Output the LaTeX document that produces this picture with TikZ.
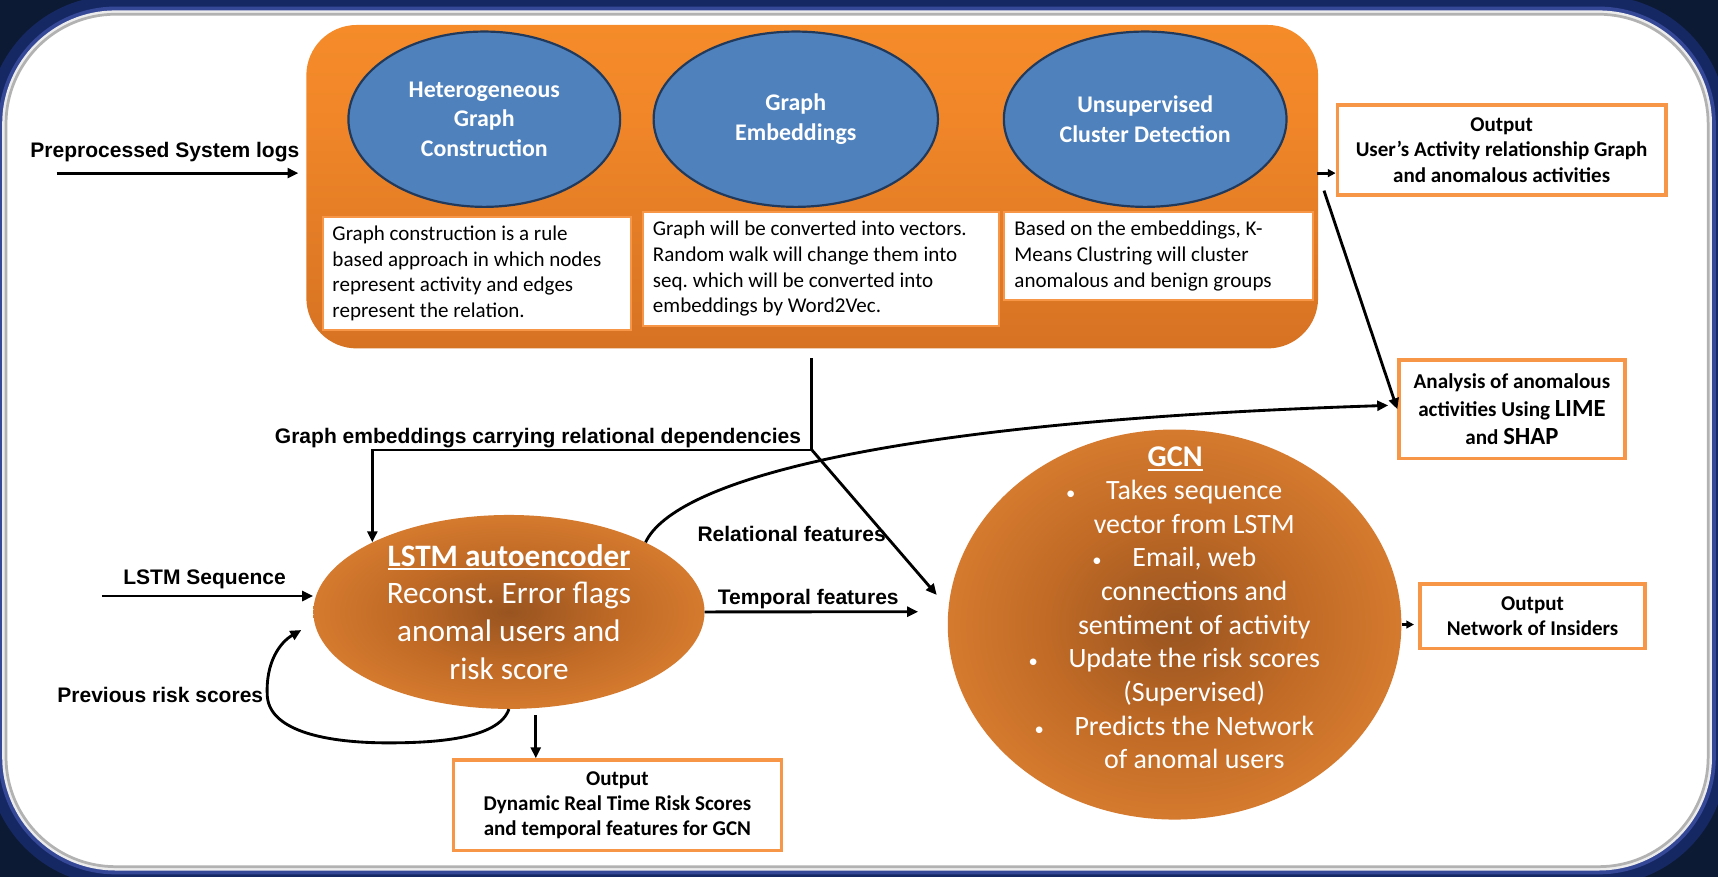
\documentclass[tikz,border=0pt]{standalone}
\usepackage{fontspec}
\setmainfont{Carlito}
\newfontfamily\arialf{Liberation Sans}
\usetikzlibrary{arrows.meta,shapes.geometric}

\definecolor{navy}{RGB}{13,26,52}
\definecolor{glowblue}{RGB}{30,52,140}
\definecolor{eblue}{RGB}{79,129,189}
\definecolor{edark}{RGB}{33,58,92}
\definecolor{boxor}{RGB}{247,150,70}
\definecolor{otop}{RGB}{253,148,44}
\definecolor{omid}{RGB}{240,134,40}
\definecolor{obot}{RGB}{203,106,33}
\definecolor{gin}{RGB}{152,84,32}
\definecolor{gmid1}{RGB}{192,106,38}
\definecolor{gmid2}{RGB}{226,133,52}
\definecolor{gout}{RGB}{243,147,61}

\pgfdeclareverticalshading{orangev}{100bp}{color(0bp)=(obot); color(10bp)=(obot); color(60bp)=(omid); color(100bp)=(otop)}
\pgfdeclareradialshading{orangeglow}{\pgfpoint{0bp}{0bp}}{color(0bp)=(gin); color(14bp)=(gmid1); color(32bp)=(gmid2); color(50bp)=(gout)}

\newcommand{\myul}[1]{\setbox0=\hbox{#1}\rlap{\vrule width\wd0 height -2.2pt depth 4pt}\box0}
\newcommand{\gbul}{\llap{{\fontsize{17}{17}\selectfont •}\hspace{28pt}}}
\frenchspacing

\begin{document}
\begin{tikzpicture}[x=1pt,y=-1pt,
  arr/.style={line width=2.6pt,-{Triangle[length=10pt,width=9pt]}},
  sarr/.style={line width=2.6pt,-{Triangle[length=7pt,width=7pt]}},
  blueell/.style={ellipse,fill=eblue,draw=edark,line width=2pt,text=white,inner sep=0pt,
    font={\bfseries\fontsize{21.8}{26.8}\selectfont},align=center},
  pipebox/.style={rectangle,rounded corners=46pt,shade,shading=orangev,inner sep=0pt},
  descbox/.style={rectangle,draw=boxor,line width=1.5pt,fill=white,inner sep=0pt},
  desctext/.style={anchor=west,align=left,inner sep=0pt,font={\fontsize{19.2}{23.5}\selectfont}},
  outbox/.style={rectangle,draw=boxor,line width=3pt,fill=white,inner sep=0pt,align=center,
    font={\bfseries\fontsize{19.2}{23}\selectfont}},
  lbl/.style={anchor=base,inner sep=0pt,font={\arialf\bfseries\fontsize{19.2}{23}\selectfont}},
  glowell/.style={ellipse,shade,shading=orangeglow,inner sep=0pt,text=white,align=center},
]
\useasboundingbox (0,0) rectangle (1568,800);

% background and panel
\fill[navy] (0,0) rectangle (1568,800);
\draw[glowblue,line width=34pt,rounded corners=100pt,opacity=.55] (5.5,13) rectangle (1559,791);
\draw[glowblue!90!white,line width=14pt,rounded corners=100pt] (5.5,13) rectangle (1559,791);
\draw[gray!15,line width=7pt,rounded corners=100pt] (5.5,13) rectangle (1559,791);
\filldraw[fill=white,draw=gray!60,line width=2.5pt,rounded corners=100pt] (5.5,13) rectangle (1559,791);

% orange pipeline block
\node[pipebox,minimum width=923.4pt,minimum height=295.2pt] (pipe) at (741.3,170.4) {};

\node[blueell,minimum width=248pt,minimum height=160pt] (e1) at (442,108.8) {Heterogeneous\\Graph\\Construction};
\node[blueell,minimum width=259.5pt,minimum height=160pt] (e2) at (726.3,108.8) {Graph\\Embeddings};
\node[blueell,minimum width=258pt,minimum height=160pt] (e3) at (1045.2,108.8) {Unsupervised\\Cluster Detection};

\node[descbox,minimum width=281pt,minimum height=103pt] (t1) at (435.5,249.5) {};
\node[desctext] (t1x) at ([xshift=9pt]t1.west) {Graph construction is a rule\\based approach in which nodes\\represent activity and edges\\represent the relation.};
\node[descbox,minimum width=324.5pt,minimum height=104.3pt] (t2) at (749.25,245.35) {};
\node[desctext] (t2x) at ([xshift=9.5pt]t2.west) {Graph will be converted into vectors.\\Random walk will change them into\\seq. which will be converted into\\embeddings by Word2Vec.};
\node[descbox,minimum width=282.2pt,minimum height=80.6pt] (t3) at (1057.5,233.5) {};
\node[desctext] (t3x) at ([xshift=10pt]t3.west) {Based on the embeddings, K-\\Means Clustring will cluster\\anomalous and benign groups};

% output boxes
\node[outbox,minimum width=300pt,minimum height=82.2pt] (ob1) at (1370.5,136.9) {Output\\User’s Activity relationship Graph\\and anomalous activities};
\node[outbox,minimum width=206.2pt,minimum height=89.7pt,font={\bfseries\fontsize{19.3}{25.9}\selectfont}] (lime) at (1379.9,373.5)
  {Analysis of anomalous\\activities Using {\fontsize{22.5}{25.9}\selectfont LIME}\\and {\fontsize{22.5}{25.9}\selectfont SHAP}};
\node[outbox,minimum width=299.8pt,minimum height=82.8pt] (ob2) at (563.5,735) {Output\\Dynamic Real Time Risk Scores\\and temporal features for GCN};
\node[outbox,minimum width=205.3pt,minimum height=58.7pt] (ob3) at (1398.7,562.4) {Output\\Network of Insiders};

% LSTM and GCN
\node[glowell,minimum width=357pt,minimum height=177pt,font={\fontsize{28.5}{34.5}\selectfont}] (lstm) at (464.5,558.5)
  {\myul{\bfseries LSTM autoencoder}\\Reconst. Error flags\\anomal users and\\risk score};
\node[glowell,minimum width=414pt,minimum height=356pt] (gcn) at (1072,570) {};
\node[anchor=base,inner sep=0pt,text=white,font={\bfseries\fontsize{27.5}{30}\selectfont}] (gcnT) at (1072.6,426) {\myul{GCN}};
\node[inner sep=0pt,text=white,align=center,font={\fontsize{25.5}{30.7}\selectfont}] (gcnB) at (1090,570)
  {\gbul Takes sequence\\vector from LSTM\\\gbul Email, web\\connections and\\sentiment of activity\\\gbul Update the risk scores\\(Supervised)\\\gbul Predicts the Network\\of anomal users};

% labels
\node[lbl] (prep) at (150.5,143.6) {Preprocessed System logs};
\node[lbl] (gel) at (491,404.6) {Graph embeddings carrying relational dependencies};
\node[lbl] (rel) at (722.5,493.9) {Relational features};
\node[lbl] (tmp) at (737.7,552) {Temporal features};
\node[lbl] (seq) at (186.7,533.2) {LSTM Sequence};
\node[lbl] (prev) at (146.3,641.2) {Previous risk scores};

% coordinates
\coordinate (p0) at (51.7,158);
\coordinate (q0) at (1202,158);
\coordinate (d0) at (1208.4,174);
\coordinate (v0) at (741,327);
\coordinate (vj) at (741,410.7);
\coordinate (g1) at (855,543);
\coordinate (l1) at (1267,370);
\coordinate (tmpEnd) at (838,558.3);
\coordinate (s0) at (92.9,544);
\coordinate (lp1) at (275,575);
\coordinate (o0) at (489,652.6);

% connectors
\draw[arr,shorten >=7pt] (p0) -- (p0 -| pipe.west);
\draw[sarr] (q0) -- (q0 -| ob1.west);
\draw[arr] (d0) -- (lime.west);
\draw[arr,line join=miter] (v0) -- (vj) -- (vj -| lstm.153.5) -- (lstm.153.5);
\draw[arr] (vj) -- (g1);
\draw[arr] (lstm.27) .. controls (615,440) and (800,385) .. (l1);
\draw[arr] (lstm.east) -- (tmpEnd);
\draw[arr] (s0) -- (s0 -| lstm.west);
\draw[arr] (lstm.south) .. controls (455,675) and (395,678) .. (354,678)
  .. controls (300,678) and (247,668) .. (244,636)
  .. controls (242,604) and (256,586) .. (lp1);
\draw[arr] (o0) -- (o0 |- ob2.north);
\draw[sarr,shorten >=4pt] (gcn.east) -- (gcn.east -| ob3.west);
\end{tikzpicture}
\end{document}
